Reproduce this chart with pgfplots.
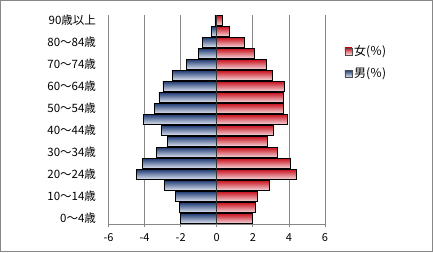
\documentclass[border=0pt]{standalone}
\usepackage{pgfplots}
\pgfplotsset{compat=1.18}
\usepackage{fontspec}
\setmainfont{Noto Sans CJK JP}
\definecolor{bdark}{HTML}{1F3B73}
\definecolor{blight}{HTML}{E3E8F3}
\definecolor{rdark}{HTML}{C8101E}
\definecolor{rlight}{HTML}{F6DCDF}
\definecolor{gridg}{HTML}{878787}
\begin{document}
\begin{tikzpicture}
\useasboundingbox (0,0) rectangle (433pt,252pt);
\fill[white] (0,0) rectangle (433pt,252pt);
\draw[gridg,line width=1pt] (0.5pt,0.5pt) rectangle (432.5pt,251.5pt);
\begin{axis}[
  at={(108.5pt,28pt)}, anchor=south west,
  scale only axis, width=216.5pt, height=209pt,
  xmin=-6, xmax=6, ymin=-0.5, ymax=18.5,
  xtick={-6,-4,...,6},
  ytick={0,2,...,18},
  yticklabels={0～4歳,10～14歳,20～24歳,30～34歳,40～44歳,50～54歳,60～64歳,70～74歳,80～84歳,90歳以上},
  axis lines*=left,
  y axis line style={draw=none},
  x axis line style={gridg, line width=0.8pt},
  ytick style={draw=none},
  xtick style={gridg, line width=0.8pt},
  tick align=outside,
  major tick length=3pt,
  xmajorgrids,
  grid style={gridg, line width=0.8pt},
  /pgf/number format/assume math mode=true,
  tick label style={font=\fontsize{11}{12}\selectfont, black},
  yticklabel style={xshift=-6pt, font=\fontsize{11.5}{13}\selectfont},
  xticklabel style={yshift=-3pt},
  xbar, bar shift=0pt, bar width=10.2pt,
  fem/.style={draw=black, line width=0.6pt, top color=rdark, bottom color=rlight},
  mal/.style={draw=black, line width=0.6pt, top color=bdark, bottom color=blight},
  legend style={at={(1.09,0.865)}, anchor=north west, draw=none, fill=none,
    font=\fontsize{12}{14}\selectfont, row sep=7pt, inner sep=0pt},
  legend cell align=left,
  legend image code/.code={\draw[#1, draw=black!70, line width=0.4pt] (0pt,-3.5pt) rectangle (7pt,3.5pt);},
]
\addplot[fem] coordinates {(1.97,0)};
\addlegendentry{女(％)}
\addplot[mal] coordinates {(-2.02,0)};
\addlegendentry{男(％)}
\addplot[fem,forget plot] coordinates {(2.14,1)};
\addplot[fem,forget plot] coordinates {(2.25,2)};
\addplot[fem,forget plot] coordinates {(2.92,3)};
\addplot[fem,forget plot] coordinates {(4.41,4)};
\addplot[fem,forget plot] coordinates {(4.08,5)};
\addplot[fem,forget plot] coordinates {(3.36,6)};
\addplot[fem,forget plot] coordinates {(2.80,7)};
\addplot[fem,forget plot] coordinates {(3.14,8)};
\addplot[fem,forget plot] coordinates {(3.91,9)};
\addplot[fem,forget plot] coordinates {(3.67,10)};
\addplot[fem,forget plot] coordinates {(3.67,11)};
\addplot[fem,forget plot] coordinates {(3.75,12)};
\addplot[fem,forget plot] coordinates {(3.08,13)};
\addplot[fem,forget plot] coordinates {(2.75,14)};
\addplot[fem,forget plot] coordinates {(2.08,15)};
\addplot[fem,forget plot] coordinates {(1.53,16)};
\addplot[fem,forget plot] coordinates {(0.70,17)};
\addplot[fem,forget plot] coordinates {(0.28,18)};
\addplot[mal,forget plot] coordinates {(-2.07,1)};
\addplot[mal,forget plot] coordinates {(-2.29,2)};
\addplot[mal,forget plot] coordinates {(-2.90,3)};
\addplot[mal,forget plot] coordinates {(-4.47,4)};
\addplot[mal,forget plot] coordinates {(-4.12,5)};
\addplot[mal,forget plot] coordinates {(-3.35,6)};
\addplot[mal,forget plot] coordinates {(-2.74,7)};
\addplot[mal,forget plot] coordinates {(-3.07,8)};
\addplot[mal,forget plot] coordinates {(-4.07,9)};
\addplot[mal,forget plot] coordinates {(-3.45,10)};
\addplot[mal,forget plot] coordinates {(-3.21,11)};
\addplot[mal,forget plot] coordinates {(-2.99,12)};
\addplot[mal,forget plot] coordinates {(-2.46,13)};
\addplot[mal,forget plot] coordinates {(-1.68,14)};
\addplot[mal,forget plot] coordinates {(-1.02,15)};
\addplot[mal,forget plot] coordinates {(-0.80,16)};
\addplot[mal,forget plot] coordinates {(-0.28,17)};
\addplot[mal,forget plot] coordinates {(-0.10,18)};
\draw[black!80, line width=0.8pt] (axis cs:0,-0.5) -- (axis cs:0,18.5);
\end{axis}
\end{tikzpicture}
\end{document}
